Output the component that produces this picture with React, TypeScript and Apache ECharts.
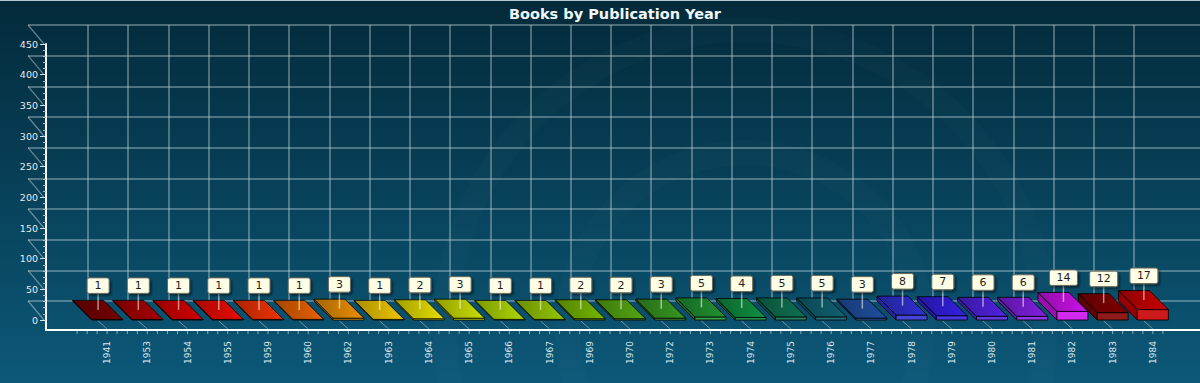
import React, { useEffect, useRef } from 'react';
import * as echarts from 'echarts';

// ---------- data ----------
const categories = [
  '1941', '1953', '1954', '1955', '1959', '1960', '1962', '1963', '1964',
  '1965', '1966', '1967', '1969', '1970', '1972', '1973', '1974', '1975',
  '1976', '1977', '1978', '1979', '1980', '1981', '1982', '1983', '1984',
];
const bookCounts = [1, 1, 1, 1, 1, 1, 3, 1, 2, 3, 1, 1, 2, 2, 3, 5, 4, 5, 5, 3, 8, 7, 6, 6, 14, 12, 17];
const barColors = [
  '#780000', '#a80000', '#d40000', '#ec0c00', '#f03400', '#ea6200', '#ea9000', '#f0c800', '#e8e000',
  '#cce000', '#aed800', '#96c800', '#76b800', '#56a812', '#389822', '#209232', '#109042', '#0e7252',
  '#106272', '#2050a2', '#3030d4', '#3420e2', '#5222e2', '#8220e2', '#cc12ec', '#820000', '#c80000',
];
const yMin = 0;
const yMax = 450;
const yStep = 50;
const yTickValues = [0, 50, 100, 150, 200, 250, 300, 350, 400, 450];

// ---------- helpers ----------
function shade(hex: string, amt: number): string {
  const n = parseInt(hex.slice(1), 16);
  let r = (n >> 16) & 255;
  let g = (n >> 8) & 255;
  let b = n & 255;
  const t = amt < 0 ? 0 : 255;
  const p = Math.abs(amt);
  r = Math.round(r + (t - r) * p);
  g = Math.round(g + (t - g) * p);
  b = Math.round(b + (t - b) * p);
  return `rgb(${r},${g},${b})`;
}

const DEPTH = 19;
const Y_AXIS_OFFSET = 41;
const GRID_LINE = 'rgba(200,215,222,0.5)';
const FONT = '"DejaVu Sans", Verdana, sans-serif';

export default function App() {
  const ref = useRef<HTMLDivElement>(null);

  useEffect(() => {
    const chart = echarts.init(ref.current as HTMLDivElement, null, { renderer: 'svg' });

    const barData = bookCounts.map((v, i) => [i, v]);

    const option: any = {
      animation: false,
      backgroundColor: new echarts.graphic.LinearGradient(0, 0, 0, 1, [
        { offset: 0, color: '#032a3a' },
        { offset: 1, color: '#0c5878' },
      ]),
      title: {
        text: 'Books by Publication Year',
        left: 610,
        top: 1,
        textAlign: 'center',
        textStyle: { color: '#f2f6f8', fontSize: 14.5, fontWeight: 'bold', fontFamily: FONT },
      },
      graphic: [
        {
          type: 'line',
          silent: true,
          shape: { x1: 0, y1: 0.5, x2: 1200, y2: 0.5 },
          style: { stroke: '#b9c9d1', lineWidth: 1 },
        },
        {
          type: 'ring',
          silent: true,
          z: -1,
          shape: { cx: 745, cy: 330, r: 312, r0: 288 },
          style: { fill: 'rgba(255,255,255,0.016)' },
        },
        {
          type: 'ring',
          silent: true,
          z: -1,
          shape: { cx: 745, cy: 330, r: 190, r0: 165 },
          style: { fill: 'rgba(255,255,255,0.016)' },
        },
      ],
      grid: [
        // 0: front plane (bars, labels)
        { left: 87, right: 27, top: 44, bottom: 63 },
        // 1: back wall horizontal lines
        { left: 28, right: 0, top: 25, bottom: 82 },
        // 2: back wall vertical lines
        { left: 88, right: 66, top: 25, bottom: 82 },
        // 3: frame axes
        { left: 46, right: 0, top: 44, bottom: 53 },
      ],
      xAxis: [
        {
          gridIndex: 0,
          type: 'category',
          data: categories,
          boundaryGap: true,
          axisLine: { show: false },
          axisTick: { show: false },
          splitLine: { show: false },
          axisLabel: {
            interval: 0,
            rotate: 90,
            margin: 21,
            color: '#dde7ee',
            fontSize: 9,
            fontFamily: FONT,
          },
        },
        {
          gridIndex: 1,
          type: 'value',
          min: 0,
          max: 1,
          axisLine: { show: false },
          axisTick: { show: false },
          axisLabel: { show: false },
          splitLine: { show: false },
        },
        {
          gridIndex: 2,
          type: 'category',
          data: categories,
          boundaryGap: false,
          axisLine: { show: false },
          axisTick: { show: false },
          axisLabel: { show: false, interval: 0 },
          splitLine: { show: true, interval: 0, lineStyle: { color: GRID_LINE, width: 1.5 } },
        },
        {
          gridIndex: 3,
          type: 'value',
          min: 0,
          max: 1,
          axisLine: { show: true, onZero: false, lineStyle: { color: '#ffffff', width: 2 } },
          axisTick: { show: false },
          axisLabel: { show: false },
          splitLine: { show: false },
        },
      ],
      yAxis: [
        {
          gridIndex: 0,
          type: 'value',
          min: yMin,
          max: yMax,
          interval: yStep,
          offset: Y_AXIS_OFFSET,
          axisLine: { show: false },
          axisTick: { show: true, length: 6, lineStyle: { color: '#d8e4ec' } },
          minorTick: { show: true, splitNumber: 5, length: 3, lineStyle: { color: '#a9c0cc' } },
          splitLine: { show: false },
          axisLabel: { color: '#e4ecf2', fontSize: 9.5, fontFamily: FONT, margin: 8 },
        },
        {
          gridIndex: 1,
          type: 'value',
          min: yMin,
          max: yMax,
          interval: yStep,
          axisLine: { show: false },
          axisTick: { show: false },
          axisLabel: { show: false },
          splitLine: { show: true, lineStyle: { color: GRID_LINE, width: 1.5 } },
        },
        {
          gridIndex: 2,
          type: 'value',
          min: yMin,
          max: yMax,
          interval: yStep,
          axisLine: { show: false },
          axisTick: { show: false },
          axisLabel: { show: false },
          splitLine: { show: false },
        },
        {
          gridIndex: 3,
          type: 'value',
          min: 0,
          max: 1,
          axisLine: { show: true, onZero: false, lineStyle: { color: '#ffffff', width: 2 } },
          axisTick: { show: false },
          axisLabel: { show: false },
          splitLine: { show: false },
        },
      ],
      series: [
        // depth diagonals at the y-axis ticks
        {
          type: 'custom',
          name: 'yDepth',
          xAxisIndex: 0,
          yAxisIndex: 0,
          clip: false,
          silent: true,
          z: 1,
          data: yTickValues.map((v) => [0, v]),
          renderItem: (params: any, api: any) => {
            const y = api.coord([0, api.value(1)])[1];
            const ax = params.coordSys.x - Y_AXIS_OFFSET;
            return {
              type: 'line',
              shape: { x1: ax - 18, y1: y - DEPTH, x2: ax - 2, y2: y },
              style: { stroke: GRID_LINE, lineWidth: 1.2 },
            };
          },
        },
        // depth diagonals and minor ticks along the x-axis
        {
          type: 'custom',
          name: 'xDepth',
          xAxisIndex: 0,
          yAxisIndex: 0,
          clip: false,
          silent: true,
          z: 1,
          data: categories.map((_, i) => [i, 0]),
          renderItem: (params: any, api: any) => {
            const p = api.coord([api.value(0), 0]);
            const cx = p[0];
            const y0 = p[1];
            const children: any[] = [
              {
                type: 'line',
                shape: { x1: cx - 9, y1: y0 + 1, x2: cx, y2: y0 + 9 },
                style: { stroke: 'rgba(205,220,228,0.5)', lineWidth: 1 },
              },
            ];
            const offs = params.dataIndex === 0 ? [-30, -20, -10, 0, 10] : [-20, -10, 0, 10];
            offs.forEach((o) => {
              children.push({
                type: 'line',
                shape: { x1: cx + o, y1: y0 + 11, x2: cx + o, y2: y0 + 14 },
                style: { stroke: 'rgba(220,232,240,0.6)', lineWidth: 1 },
              });
            });
            return { type: 'group', children };
          },
        },
        // 3D bars with value boxes
        {
          type: 'custom',
          name: 'Books',
          xAxisIndex: 0,
          yAxisIndex: 0,
          clip: false,
          z: 3,
          data: barData,
          renderItem: (params: any, api: any) => {
            const i = api.value(0);
            const v = api.value(1);
            const base = api.coord([i, 0]);
            const top = api.coord([i, v]);
            const cx = base[0];
            const y0 = base[1];
            const y1 = top[1];
            const band = api.size([1, 0])[0];
            const w = band * 0.385;
            const D = DEPTH;
            const col = barColors[params.dataIndex % barColors.length];
            const stroke = 'rgba(0,0,0,0.8)';
            const label = String(v);
            const boxW = 16 + 6 * label.length;
            const boxH = 15.5;
            const bx = cx - 9;
            const boxBottom = y1 - D - 7;
            return {
              type: 'group',
              children: [
                // left side face
                {
                  type: 'polygon',
                  shape: {
                    points: [
                      [cx - w - D, y1 - D],
                      [cx - w, y1],
                      [cx - w, y0],
                      [cx - w - D, y0 - D],
                    ],
                  },
                  style: { fill: shade(col, -0.25), stroke, lineWidth: 1 },
                },
                // front face
                {
                  type: 'rect',
                  shape: { x: cx - w, y: y1, width: 2 * w, height: Math.max(y0 - y1, 0.5) },
                  style: { fill: shade(col, 0.1), stroke, lineWidth: 1 },
                },
                // top face
                {
                  type: 'polygon',
                  shape: {
                    points: [
                      [cx - w, y1],
                      [cx + w, y1],
                      [cx + w - D, y1 - D],
                      [cx - w - D, y1 - D],
                    ],
                  },
                  style: {
                    fill: new echarts.graphic.LinearGradient(0, 0, 1, 0, [
                      { offset: 0, color: shade(col, -0.3) },
                      { offset: 1, color: col },
                    ]),
                    stroke,
                    lineWidth: 1,
                  },
                },
                // leader line
                {
                  type: 'line',
                  shape: { x1: bx, y1: boxBottom, x2: bx, y2: y1 - D / 2 },
                  style: { stroke: 'rgba(255,255,255,0.55)', lineWidth: 1.5 },
                },
                // value box
                {
                  type: 'rect',
                  shape: { x: bx - boxW / 2, y: boxBottom - boxH, width: boxW, height: boxH, r: 2 },
                  style: {
                    fill: '#fefee6',
                    stroke: '#6a6a5a',
                    lineWidth: 1,
                    shadowBlur: 2,
                    shadowOffsetX: 2,
                    shadowOffsetY: 2,
                    shadowColor: 'rgba(0,0,0,0.45)',
                  },
                },
                {
                  type: 'text',
                  style: {
                    text: label,
                    x: bx,
                    y: boxBottom - boxH / 2,
                    align: 'center',
                    verticalAlign: 'middle',
                    font: `11px ${FONT}`,
                    fill: '#1e1e1e',
                  },
                },
              ],
            };
          },
        },
      ],
    };

    chart.setOption(option);
    return () => chart.dispose();
  }, []);

  return (
    <div
      ref={ref}
      style={{ position: 'absolute', left: 0, top: 0, width: 1200, height: 383 }}
    />
  );
}
